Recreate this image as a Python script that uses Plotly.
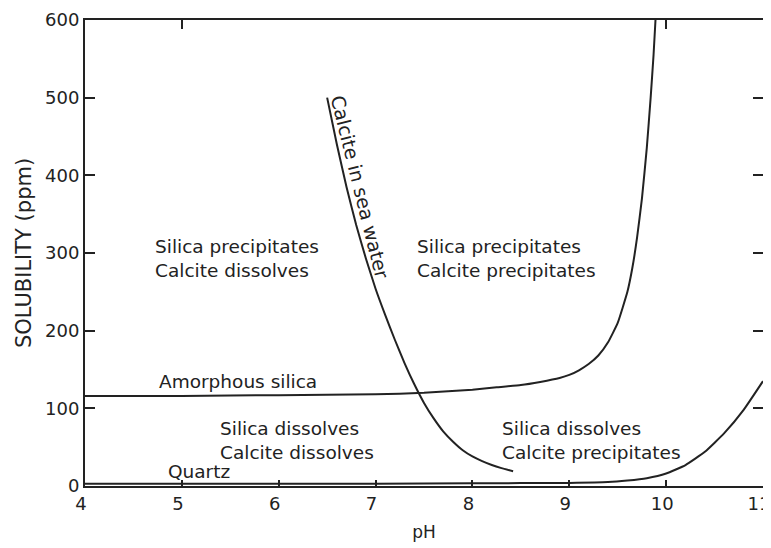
import plotly.graph_objects as go

# Amorphous silica solubility (ppm) vs pH
amorph_ph = [4.0, 5.0, 6.0, 7.0, 7.5, 8.0, 8.25, 8.5, 8.7, 8.9, 9.0, 9.1, 9.2, 9.3, 9.4, 9.5, 9.6, 9.65, 9.7, 9.75, 9.8, 9.84, 9.87, 9.89]
amorph_ppm = [116, 116, 117, 118, 120, 124, 127, 130, 134, 139, 143, 149, 157, 168, 185, 210, 250, 280, 320, 370, 435, 500, 555, 600]

# Quartz solubility (ppm) vs pH
quartz_ph = [4.0, 5.0, 6.0, 7.0, 8.0, 9.0, 9.4, 9.6, 9.8, 10.0, 10.2, 10.4, 10.6, 10.8, 11.0]
quartz_ppm = [3, 3, 3, 3, 3.5, 4, 5, 7, 10, 16, 27, 44, 68, 98, 135]

# Calcite in sea water (ppm) vs pH
calcite_ph = [6.5, 6.6, 6.7, 6.8, 6.9, 7.0, 7.1, 7.2, 7.3, 7.4, 7.5, 7.6, 7.7, 7.8, 7.9, 8.0, 8.1, 8.2, 8.3, 8.42]
calcite_ppm = [500, 440, 385, 336, 293, 254, 220, 188, 158, 131, 107, 87, 70, 57, 46, 38, 32, 27, 23, 19]

x_ticks = [4, 5, 6, 7, 8, 9, 10, 11]
x_top_ticks = [5, 10]
y_ticks = [0, 100, 200, 300, 400, 500, 600]

line_col = "#222222"
font_fam = "DejaVu Sans, sans-serif"

fig = go.Figure()
for xs, ys in [(amorph_ph, amorph_ppm), (quartz_ph, quartz_ppm), (calcite_ph, calcite_ppm)]:
    fig.add_trace(go.Scatter(x=xs, y=ys, mode="lines",
                             line=dict(color=line_col, width=2, shape="spline", smoothing=0.4),
                             showlegend=False, hoverinfo="skip"))
# trace carried by the top axis so that its ticks (at 5 and 10) are drawn
fig.add_trace(go.Scatter(x=[4, 11], y=[0, 0], xaxis="x2", mode="lines",
                         line=dict(width=0, color="rgba(0,0,0,0)"), showlegend=False, hoverinfo="skip"))

ann_font = dict(family=font_fam, size=18.5, color=line_col)
annotations = [
    dict(x=4.70, y=293, text="Silica precipitates<br>Calcite dissolves", xanchor="left", yanchor="middle"),
    dict(x=7.41, y=293, text="Silica precipitates<br>Calcite precipitates", xanchor="left", yanchor="middle"),
    dict(x=4.74, y=134, text="Amorphous silica", xanchor="left", yanchor="middle"),
    dict(x=5.37, y=58, text="Silica dissolves<br>Calcite dissolves", xanchor="left", yanchor="middle"),
    dict(x=8.28, y=58, text="Silica dissolves<br>Calcite precipitates", xanchor="left", yanchor="middle"),
    dict(x=4.84, y=2, text="Quartz", xanchor="left", yanchor="bottom"),
    dict(x=6.84, y=385, text="Calcite in sea water", textangle=76, xanchor="center", yanchor="middle",
         font=dict(family=font_fam, size=19, color=line_col)),
]
for a in annotations:
    a.setdefault("font", ann_font)
    a.update(xref="x", yref="y", showarrow=False, align="left")

axis_common = dict(showgrid=False, zeroline=False, showline=True, linecolor=line_col, linewidth=2,
                   ticks="inside", tickcolor=line_col, tickwidth=1.5, automargin=False,
                   ticklabeloverflow="allow",
                   tickfont=dict(family=font_fam, size=18, color=line_col))

# the page body adds an 8 px margin, so the figure is sized 8 px smaller on each axis
fig.update_layout(
    width=763, height=540,
    margin=dict(l=77, r=8, t=12, b=62),
    paper_bgcolor="white", plot_bgcolor="white",
    annotations=annotations,
    xaxis=dict(range=[4, 11], tickvals=x_ticks, ticklen=6, mirror=True, ticklabelshift=-4,
               title=dict(text="pH", font=dict(family=font_fam, size=17, color=line_col), standoff=14),
               **axis_common),
    xaxis2=dict(range=[4, 11], overlaying="x", side="top", tickvals=x_top_ticks, ticklen=9,
                showticklabels=False, showline=False, ticks="inside", tickcolor=line_col,
                tickwidth=1.5, showgrid=False, zeroline=False, automargin=False),
    yaxis=dict(range=[0, 600], tickvals=y_ticks, ticklen=10, mirror="ticks",
               title=dict(text="SOLUBILITY (ppm)", font=dict(family=font_fam, size=21, color=line_col), standoff=8),
               **axis_common),
)

fig.write_html("out.html")
